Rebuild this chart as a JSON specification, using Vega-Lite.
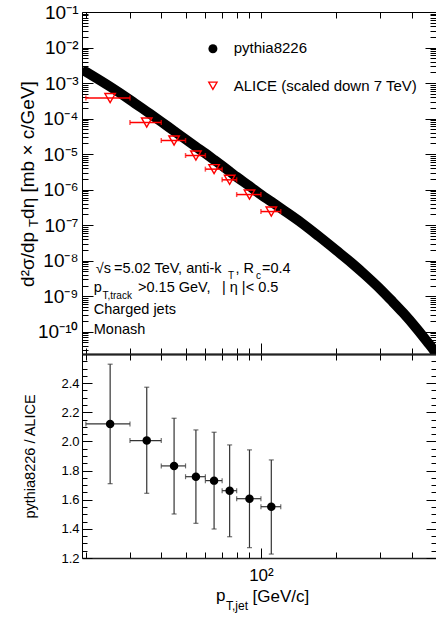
{
  "$schema": "https://vega.github.io/schema/vega-lite/v6.json",
  "padding": {"left": 18, "top": 3, "right": 1, "bottom": 0},
  "background": "white",
  "config": {
    "view": {"stroke": null},
    "axis": {"grid": false, "domainColor": "#000", "tickColor": "#000", "labelColor": "#000", "titleColor": "#000", "labelFont": "Liberation Sans", "titleFont": "Liberation Sans", "labelFlush": false, "labelOverlap": false, "labelBound": false, "tickWidth": 1, "domainWidth": 1}
  },
  "datasets": {
    "pythia": [{"pt":20,"y":2.09e-3},{"pt":25,"y":7.94e-4},{"pt":30,"y":3.39e-4},{"pt":35,"y":1.58e-4},{"pt":40,"y":8.13e-5},{"pt":45,"y":4.47e-5},{"pt":50,"y":2.63e-5},{"pt":55,"y":1.62e-5},{"pt":60,"y":1.05e-5},{"pt":65,"y":6.92e-6},{"pt":70,"y":4.68e-6},{"pt":75,"y":3.24e-6},{"pt":80,"y":2.29e-6},{"pt":90,"y":1.26e-6},{"pt":100,"y":7.24e-7},{"pt":110,"y":4.57e-7},{"pt":125,"y":2.45e-7},{"pt":145,"y":1.17e-7},{"pt":170,"y":4.90e-8},{"pt":200,"y":1.95e-8},{"pt":230,"y":8.71e-9},{"pt":260,"y":4.07e-9},{"pt":300,"y":1.58e-9},{"pt":330,"y":7.94e-10},{"pt":370,"y":3.39e-10},{"pt":420,"y":1.20e-10},{"pt":460,"y":5.37e-11},{"pt":490,"y":3.02e-11},{"pt":500,"y":2.40e-11}],
    "alice": [{"pt":25,"lo":20,"hi":30,"y":3.78e-4},{"pt":35,"lo":30,"hi":40,"y":7.76e-5},{"pt":45,"lo":40,"hi":50,"y":2.42e-5},{"pt":55,"lo":50,"hi":60,"y":9.14e-6},{"pt":65,"lo":60,"hi":70,"y":3.78e-6},{"pt":75,"lo":70,"hi":80,"y":1.89e-6},{"pt":90,"lo":80,"hi":100,"y":7.28e-7},{"pt":110,"lo":100,"hi":120,"y":2.42e-7}],
    "ratio": [{"pt":25,"lo":20,"hi":30,"r":2.12,"rlo":1.71,"rhi":2.53},{"pt":35,"lo":30,"hi":40,"r":2.006,"rlo":1.644,"rhi":2.372},{"pt":45,"lo":40,"hi":50,"r":1.832,"rlo":1.502,"rhi":2.159},{"pt":55,"lo":50,"hi":60,"r":1.758,"rlo":1.438,"rhi":2.079},{"pt":65,"lo":60,"hi":70,"r":1.731,"rlo":1.399,"rhi":2.063},{"pt":75,"lo":70,"hi":80,"r":1.662,"rlo":1.346,"rhi":1.976},{"pt":90,"lo":80,"hi":100,"r":1.607,"rlo":1.271,"rhi":1.942},{"pt":110,"lo":100,"hi":120,"r":1.552,"rlo":1.227,"rhi":1.873}],
    "legend_dot": [{"x":64.3,"y":9.25e-3}],
    "legend_tri": [{"x":64.3,"y":8.4e-4}],
    "legend_text": [{"x":77.8,"y":6.96e-3,"t":"pythia8226"},{"x":77.8,"y":6.07e-4,"t":"ALICE (scaled down 7 TeV)"}],
    "ann_main": [{"x":21.9,"y":4.45e-9,"t":"√s"},{"x":25.9,"y":4.45e-9,"t":"=5.02 TeV, anti-k"},{"x":79.1,"y":4.45e-9,"t":", R"},{"x":100.9,"y":4.45e-9,"t":"=0.4"},{"x":21.5,"y":1.30e-9,"t":"p"},{"x":32.3,"y":1.30e-9,"t":">0.15 GeV,"},{"x":69.9,"y":1.30e-9,"t":"| η |< 0.5"},{"x":21.5,"y":3.11e-10,"t":"Charged jets"},{"x":21.5,"y":8.51e-11,"t":"Monash"}],
    "ann_sub": [{"x":73.8,"y":3.07e-9,"t":"T"},{"x":95.5,"y":3.07e-9,"t":"c"},{"x":23.3,"y":8.13e-10,"t":"T,track"}],
    "ytitle_main": [{"x":12.4,"y":1.83e-9,"t":"d²σ/dp"},{"x":12.4,"y":1.50e-7,"t":"dη [mb × c/GeV]"}],
    "ytitle_sub": [{"x":12.85,"y":8.95e-8,"t":"T"}],
    "xtitle_main": [{"x":66.1,"y":0.905,"t":"p"},{"x":92.6,"y":0.9,"t":"[GeV/c]"}],
    "xtitle_sub": [{"x":72.5,"y":0.843,"t":"T,jet"}]
  },
  "vconcat": [
    {
      "width": 354,
      "height": 342,
      "resolve": {"axis": {"x": "independent", "y": "independent"}},
      "layer": [
        {
          "data": {"name": "pythia"},
          "mark": {"type": "line", "color": "#000", "strokeWidth": 10, "strokeCap": "round", "strokeJoin": "round", "interpolate": "monotone", "clip": true},
          "encoding": {
            "x": {"field": "pt", "type": "quantitative", "scale": {"type": "log", "domain": [19.3, 500], "nice": false},
                  "axis": {"orient": "bottom", "values": [20,30,40,50,60,70,80,90,200,300,400], "labels": false, "tickSize": -6, "title": null, "domainWidth": 2, "domainColor": "#222"}},
            "y": {"field": "y", "type": "quantitative", "scale": {"type": "log", "domain": [2.37e-11, 0.1], "nice": false},
                  "axis": {"orient": "left", "values": [1e-10,1e-9,1e-8,1e-7,1e-6,1e-5,1e-4,1e-3,1e-2,1e-1], "labelExpr": "['10⁻¹⁰','10⁻⁹','10⁻⁸','10⁻⁷','10⁻⁶','10⁻⁵','10⁻⁴','10⁻³','10⁻²','10⁻¹'][round(log(datum.value)/LN10)+10]", "tickSize": -11, "labelFontSize": 19, "labelPadding": 15, "title": null}}
          }
        },
        {
          "data": {"name": "alice"},
          "mark": {"type": "rule", "color": "#ff0000", "strokeWidth": 1.5},
          "encoding": {
            "x": {"field": "lo", "type": "quantitative", "scale": {"type": "log", "domain": [19.3, 500], "nice": false},
                  "axis": {"orient": "top", "values": [20,30,40,50,60,70,80,90,100,200,300,400], "labels": false, "tickSize": -6, "title": null}},
            "x2": {"field": "hi"},
            "y": {"field": "y", "type": "quantitative", "scale": {"type": "log", "domain": [2.37e-11, 0.1], "nice": false},
                  "axis": {"orient": "left", "values": [3e-11,4e-11,5e-11,6e-11,7e-11,8e-11,9e-11,2e-10,3e-10,4e-10,5e-10,6e-10,7e-10,8e-10,9e-10,2e-9,3e-9,4e-9,5e-9,6e-9,7e-9,8e-9,9e-9,2e-8,3e-8,4e-8,5e-8,6e-8,7e-8,8e-8,9e-8,2e-7,3e-7,4e-7,5e-7,6e-7,7e-7,8e-7,9e-7,2e-6,3e-6,4e-6,5e-6,6e-6,7e-6,8e-6,9e-6,2e-5,3e-5,4e-5,5e-5,6e-5,7e-5,8e-5,9e-5,2e-4,3e-4,4e-4,5e-4,6e-4,7e-4,8e-4,9e-4,2e-3,3e-3,4e-3,5e-3,6e-3,7e-3,8e-3,9e-3,2e-2,3e-2,4e-2,5e-2,6e-2,7e-2,8e-2,9e-2], "labels": false, "tickSize": -6, "domain": false, "title": null}}
          }
        },
        {
          "data": {"name": "alice"},
          "mark": {"type": "tick", "orient": "vertical", "color": "#ff0000", "size": 5, "thickness": 1.5},
          "encoding": {
            "x": {"field": "lo", "type": "quantitative", "scale": {"type": "log", "domain": [19.3, 500], "nice": false}, "axis": null},
            "y": {"field": "y", "type": "quantitative", "scale": {"type": "log", "domain": [2.37e-11, 0.1], "nice": false}, "axis": null}
          }
        },
        {
          "data": {"name": "alice"},
          "mark": {"type": "tick", "orient": "vertical", "color": "#ff0000", "size": 5, "thickness": 1.5},
          "encoding": {
            "x": {"field": "hi", "type": "quantitative", "scale": {"type": "log", "domain": [19.3, 500], "nice": false}, "axis": null},
            "y": {"field": "y", "type": "quantitative", "scale": {"type": "log", "domain": [2.37e-11, 0.1], "nice": false}, "axis": null}
          }
        },
        {
          "data": {"name": "alice"},
          "mark": {"type": "point", "shape": "triangle-down", "size": 110, "filled": false, "color": "#ff0000", "strokeWidth": 1.4, "opacity": 1},
          "encoding": {
            "x": {"field": "pt", "type": "quantitative", "scale": {"type": "log", "domain": [19.3, 500], "nice": false},
                  "axis": {"orient": "bottom", "values": [100], "labels": false, "tickSize": -11, "domain": false, "title": null}},
            "y": {"field": "y", "type": "quantitative", "scale": {"type": "log", "domain": [2.37e-11, 0.1], "nice": false},
                  "axis": {"orient": "right", "values": [1e-10,1e-9,1e-8,1e-7,1e-6,1e-5,1e-4,1e-3,1e-2,1e-1], "labels": false, "tickSize": -11, "title": null}}
          }
        },
        {
          "data": {"name": "legend_dot"},
          "mark": {"type": "point", "shape": "circle", "size": 81, "filled": true, "color": "#000", "opacity": 1},
          "encoding": {
            "x": {"field": "x", "type": "quantitative", "scale": {"type": "log", "domain": [19.3, 500], "nice": false}, "axis": null},
            "y": {"field": "y", "type": "quantitative", "scale": {"type": "log", "domain": [2.37e-11, 0.1], "nice": false},
                  "axis": {"orient": "right", "values": [3e-11,4e-11,5e-11,6e-11,7e-11,8e-11,9e-11,2e-10,3e-10,4e-10,5e-10,6e-10,7e-10,8e-10,9e-10,2e-9,3e-9,4e-9,5e-9,6e-9,7e-9,8e-9,9e-9,2e-8,3e-8,4e-8,5e-8,6e-8,7e-8,8e-8,9e-8,2e-7,3e-7,4e-7,5e-7,6e-7,7e-7,8e-7,9e-7,2e-6,3e-6,4e-6,5e-6,6e-6,7e-6,8e-6,9e-6,2e-5,3e-5,4e-5,5e-5,6e-5,7e-5,8e-5,9e-5,2e-4,3e-4,4e-4,5e-4,6e-4,7e-4,8e-4,9e-4,2e-3,3e-3,4e-3,5e-3,6e-3,7e-3,8e-3,9e-3,2e-2,3e-2,4e-2,5e-2,6e-2,7e-2,8e-2,9e-2], "labels": false, "tickSize": -6, "domain": false, "title": null}}
          }
        },
        {
          "data": {"name": "legend_tri"},
          "mark": {"type": "point", "shape": "triangle-down", "size": 70, "filled": false, "color": "#ff0000", "strokeWidth": 1.3, "opacity": 1},
          "encoding": {
            "x": {"field": "x", "type": "quantitative", "scale": {"type": "log", "domain": [19.3, 500], "nice": false}, "axis": null},
            "y": {"field": "y", "type": "quantitative", "scale": {"type": "log", "domain": [2.37e-11, 0.1], "nice": false}, "axis": null}
          }
        },
        {
          "data": {"name": "legend_text"},
          "mark": {"type": "text", "font": "Liberation Sans", "fontSize": 15, "align": "left", "baseline": "alphabetic", "color": "#000"},
          "encoding": {
            "x": {"field": "x", "type": "quantitative", "scale": {"type": "log", "domain": [19.3, 500], "nice": false}, "axis": null},
            "y": {"field": "y", "type": "quantitative", "scale": {"type": "log", "domain": [2.37e-11, 0.1], "nice": false}, "axis": null},
            "text": {"field": "t"}
          }
        },
        {
          "data": {"name": "ann_main"},
          "mark": {"type": "text", "font": "Liberation Sans", "fontSize": 14.5, "align": "left", "baseline": "alphabetic", "color": "#000"},
          "encoding": {
            "x": {"field": "x", "type": "quantitative", "scale": {"type": "log", "domain": [19.3, 500], "nice": false}, "axis": null},
            "y": {"field": "y", "type": "quantitative", "scale": {"type": "log", "domain": [2.37e-11, 0.1], "nice": false}, "axis": null},
            "text": {"field": "t"}
          }
        },
        {
          "data": {"name": "ann_sub"},
          "mark": {"type": "text", "font": "Liberation Sans", "fontSize": 10, "align": "left", "baseline": "alphabetic", "color": "#000"},
          "encoding": {
            "x": {"field": "x", "type": "quantitative", "scale": {"type": "log", "domain": [19.3, 500], "nice": false}, "axis": null},
            "y": {"field": "y", "type": "quantitative", "scale": {"type": "log", "domain": [2.37e-11, 0.1], "nice": false}, "axis": null},
            "text": {"field": "t"}
          }
        },
        {
          "data": {"name": "ytitle_main"},
          "mark": {"type": "text", "font": "Liberation Sans", "fontSize": 19, "angle": 270, "align": "left", "baseline": "alphabetic", "color": "#000"},
          "encoding": {
            "x": {"field": "x", "type": "quantitative", "scale": {"type": "log", "domain": [19.3, 500], "nice": false}, "axis": null},
            "y": {"field": "y", "type": "quantitative", "scale": {"type": "log", "domain": [2.37e-11, 0.1], "nice": false}, "axis": null},
            "text": {"field": "t"}
          }
        },
        {
          "data": {"name": "ytitle_sub"},
          "mark": {"type": "text", "font": "Liberation Sans", "fontSize": 13, "angle": 270, "align": "left", "baseline": "alphabetic", "color": "#000"},
          "encoding": {
            "x": {"field": "x", "type": "quantitative", "scale": {"type": "log", "domain": [19.3, 500], "nice": false}, "axis": null},
            "y": {"field": "y", "type": "quantitative", "scale": {"type": "log", "domain": [2.37e-11, 0.1], "nice": false}, "axis": null},
            "text": {"field": "t"}
          }
        }
      ]
    },
    {
      "width": 354,
      "height": 204,
      "resolve": {"axis": {"x": "independent", "y": "independent"}},
      "layer": [
        {
          "data": {"name": "ratio"},
          "mark": {"type": "rule", "color": "#333", "strokeWidth": 1.2},
          "encoding": {
            "x": {"field": "pt", "type": "quantitative", "scale": {"type": "log", "domain": [19.3, 500], "nice": false},
                  "axis": {"orient": "bottom", "values": [20,30,40,50,60,70,80,90,200,300,400], "labels": false, "tickSize": -6, "title": null, "domainWidth": 1.5, "domainColor": "#222"}},
            "y": {"field": "rlo", "type": "quantitative", "scale": {"domain": [1.2, 2.6], "nice": false, "zero": false},
                  "axis": {"orient": "left", "values": [1.2,1.4,1.6,1.8,2,2.2,2.4], "tickSize": -10, "labelFontSize": 13, "labelPadding": 13, "title": "pythia8226 / ALICE", "titleFontSize": 14.5, "titleFontWeight": "normal", "titleX": -48, "titleY": 102, "titleBaseline": "alphabetic", "titleAngle": 270, "titleAlign": "center"}},
            "y2": {"field": "rhi"}
          }
        },
        {
          "data": {"name": "ratio"},
          "mark": {"type": "rule", "color": "#333", "strokeWidth": 1.2},
          "encoding": {
            "x": {"field": "lo", "type": "quantitative", "scale": {"type": "log", "domain": [19.3, 500], "nice": false},
                  "axis": {"orient": "bottom", "values": [100], "tickSize": -10, "labelExpr": "'10²'", "labelFontSize": 17, "labelPadding": 19, "domain": false, "title": null}},
            "x2": {"field": "hi"},
            "y": {"field": "r", "type": "quantitative", "scale": {"domain": [1.2, 2.6], "nice": false, "zero": false},
                  "axis": {"orient": "left", "values": [1.25,1.3,1.35,1.45,1.5,1.55,1.65,1.7,1.75,1.85,1.9,1.95,2.05,2.1,2.15,2.25,2.3,2.35,2.45,2.5,2.55], "labels": false, "tickSize": -5, "domain": false, "title": null}}
          }
        },
        {
          "data": {"name": "ratio"},
          "mark": {"type": "tick", "orient": "horizontal", "color": "#333", "size": 5, "thickness": 1.2},
          "encoding": {
            "x": {"field": "pt", "type": "quantitative", "scale": {"type": "log", "domain": [19.3, 500], "nice": false},
                  "axis": {"orient": "top", "values": [20,30,40,50,60,70,80,90,100,200,300,400], "labels": false, "tickSize": -6, "title": null, "domainWidth": 1.5, "domainColor": "#222"}},
            "y": {"field": "rlo", "type": "quantitative", "scale": {"domain": [1.2, 2.6], "nice": false, "zero": false},
                  "axis": {"orient": "right", "values": [1.2,1.4,1.6,1.8,2,2.2,2.4], "labels": false, "tickSize": -10, "title": null}}
          }
        },
        {
          "data": {"name": "ratio"},
          "mark": {"type": "tick", "orient": "horizontal", "color": "#333", "size": 5, "thickness": 1.2},
          "encoding": {
            "x": {"field": "pt", "type": "quantitative", "scale": {"type": "log", "domain": [19.3, 500], "nice": false}, "axis": null},
            "y": {"field": "rhi", "type": "quantitative", "scale": {"domain": [1.2, 2.6], "nice": false, "zero": false},
                  "axis": {"orient": "right", "values": [1.25,1.3,1.35,1.45,1.5,1.55,1.65,1.7,1.75,1.85,1.9,1.95,2.05,2.1,2.15,2.25,2.3,2.35,2.45,2.5,2.55], "labels": false, "tickSize": -5, "domain": false, "title": null}}
          }
        },
        {
          "data": {"name": "ratio"},
          "mark": {"type": "tick", "orient": "vertical", "color": "#333", "size": 5, "thickness": 1.2},
          "encoding": {
            "x": {"field": "lo", "type": "quantitative", "scale": {"type": "log", "domain": [19.3, 500], "nice": false}, "axis": null},
            "y": {"field": "r", "type": "quantitative", "scale": {"domain": [1.2, 2.6], "nice": false, "zero": false}, "axis": null}
          }
        },
        {
          "data": {"name": "ratio"},
          "mark": {"type": "tick", "orient": "vertical", "color": "#333", "size": 5, "thickness": 1.2},
          "encoding": {
            "x": {"field": "hi", "type": "quantitative", "scale": {"type": "log", "domain": [19.3, 500], "nice": false}, "axis": null},
            "y": {"field": "r", "type": "quantitative", "scale": {"domain": [1.2, 2.6], "nice": false, "zero": false}, "axis": null}
          }
        },
        {
          "data": {"name": "ratio"},
          "mark": {"type": "point", "shape": "circle", "size": 72, "filled": true, "color": "#000", "opacity": 1},
          "encoding": {
            "x": {"field": "pt", "type": "quantitative", "scale": {"type": "log", "domain": [19.3, 500], "nice": false}, "axis": null},
            "y": {"field": "r", "type": "quantitative", "scale": {"domain": [1.2, 2.6], "nice": false, "zero": false}, "axis": null}
          }
        },
        {
          "data": {"name": "xtitle_main"},
          "mark": {"type": "text", "font": "Liberation Sans", "fontSize": 17, "align": "left", "baseline": "alphabetic", "color": "#000"},
          "encoding": {
            "x": {"field": "x", "type": "quantitative", "scale": {"type": "log", "domain": [19.3, 500], "nice": false}, "axis": null},
            "y": {"field": "y", "type": "quantitative", "scale": {"domain": [1.2, 2.6], "nice": false, "zero": false}, "axis": null},
            "text": {"field": "t"}
          }
        },
        {
          "data": {"name": "xtitle_sub"},
          "mark": {"type": "text", "font": "Liberation Sans", "fontSize": 12, "align": "left", "baseline": "alphabetic", "color": "#000"},
          "encoding": {
            "x": {"field": "x", "type": "quantitative", "scale": {"type": "log", "domain": [19.3, 500], "nice": false}, "axis": null},
            "y": {"field": "y", "type": "quantitative", "scale": {"domain": [1.2, 2.6], "nice": false, "zero": false}, "axis": null},
            "text": {"field": "t"}
          }
        }
      ]
    }
  ],
  "spacing": 0,
  "bounds": "flush"
}
